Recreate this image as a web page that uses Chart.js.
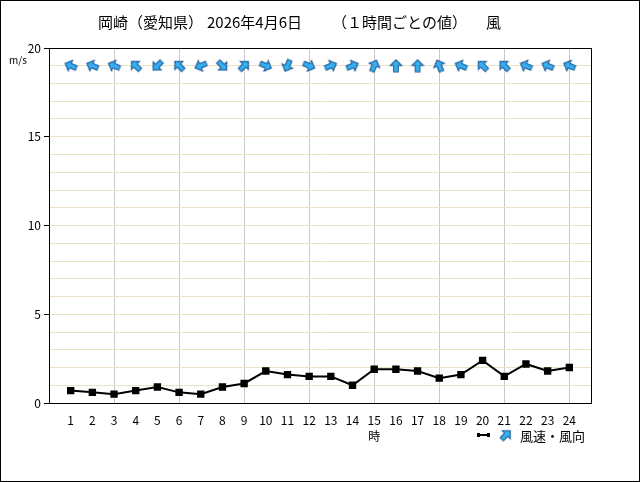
<!DOCTYPE html>
<html>
<head>
<meta charset="utf-8">
<script src="https://cdn.jsdelivr.net/npm/chart.js@4"></script>
<style>
  body { margin: 0; background: #fff; }
  #wrap { width: 640px; height: 482px; }
</style>
</head>
<body>
<div id="wrap"><canvas id="wind-chart" width="640" height="482"></canvas></div>
<script>
// hours of the day
const hours = [1, 2, 3, 4, 5, 6, 7, 8, 9, 10, 11, 12, 13, 14, 15, 16, 17, 18, 19, 20, 21, 22, 23, 24];
// wind speed (m/s)
const speeds = [0.7, 0.6, 0.5, 0.7, 0.9, 0.6, 0.5, 0.9, 1.1, 1.8, 1.6, 1.5, 1.5, 1.0, 1.9, 1.9, 1.8, 1.4, 1.6, 2.4, 1.5, 2.2, 1.8, 2.0];
// wind direction (where the wind blows from)
const directions = ["ESE", "ESE", "ESE", "SE", "NE", "SE", "ENE", "NW", "SW", "WNW", "NNE", "WNW",
  "WSW", "WSW", "SSW", "S", "S", "SSE", "ESE", "SE", "SE", "ESE", "ESE", "ESE"];
const yTicks = [0, 5, 10, 15, 20];

const compass = ["N", "NNE", "NE", "ENE", "E", "ESE", "SE", "SSE", "S", "SSW", "SW", "WSW", "W", "WNW", "NW", "NNW"];
const FONT = '"Noto Sans CJK JP", "DejaVu Sans", sans-serif';

// arrow pointing up, rotated per point
function makeArrow() {
  const c = document.createElement("canvas");
  c.width = 14; c.height = 14;
  const g = c.getContext("2d");
  g.beginPath();
  g.moveTo(7, 1);
  g.lineTo(12.8, 6.8);
  g.lineTo(9.3, 6.8);
  g.lineTo(9.3, 13);
  g.lineTo(4.7, 13);
  g.lineTo(4.7, 6.8);
  g.lineTo(1.2, 6.8);
  g.closePath();
  g.fillStyle = "#35b0f0";
  g.fill();
  g.lineWidth = 1.1;
  g.strokeStyle = "#1f5a98";
  g.stroke();
  return c;
}
const arrow = makeArrow();

// arrow points where the wind goes
const arrowAngles = directions.map(d => (compass.indexOf(d) * 22.5 + 180) % 360);

const extras = {
  id: "extras",
  afterDraw(chart) {
    const ctx = chart.ctx;
    const a = chart.chartArea;
    ctx.save();
    // plot frame
    ctx.strokeStyle = "#000";
    ctx.lineWidth = 1;
    ctx.strokeRect(Math.round(a.left) + 0.5, Math.round(a.top) + 0.5, Math.round(a.right - a.left), Math.round(a.bottom - a.top));
    // outer frame
    ctx.strokeRect(0.5, 0.5, 639, 481);

    ctx.fillStyle = "#000";
    ctx.textBaseline = "middle";
    ctx.font = "15px " + FONT;
    ctx.textAlign = "left";
    ctx.fillText("岡崎（愛知県）", 98, 22);
    ctx.fillText("2026年4月6日", 207, 22);
    ctx.fillText("（１時間ごとの値）", 332, 22);
    ctx.fillText("風", 486, 22);

    ctx.font = "10px " + FONT;
    ctx.fillText("m/s", 9, 60);

    ctx.font = "12px " + FONT;
    ctx.textAlign = "center";
    ctx.fillText("時", chart.scales.x.getPixelForValue(15), 436);

    // legend
    ctx.lineWidth = 2;
    ctx.beginPath();
    ctx.moveTo(478, 435);
    ctx.lineTo(489, 435);
    ctx.stroke();
    ctx.fillRect(477, 433, 3, 4);
    ctx.fillRect(487, 433, 3, 4);
    ctx.translate(506, 435);
    ctx.rotate(Math.PI / 4);
    ctx.drawImage(arrow, -7, -7);
    ctx.setTransform(1, 0, 0, 1, 0, 0);
    ctx.font = "13px " + FONT;
    ctx.textAlign = "left";
    ctx.fillText("風速・風向", 520, 436);
    ctx.restore();
  }
};

new Chart(document.getElementById("wind-chart"), {
  type: "line",
  data: {
    datasets: [
      {
        label: "風速",
        data: hours.map((h, i) => ({ x: h, y: speeds[i] })),
        borderColor: "#000",
        backgroundColor: "#000",
        borderWidth: 2,
        pointStyle: "rect",
        pointRadius: 3.8,
        tension: 0
      },
      {
        label: "風向",
        data: hours.map(h => ({ x: h, y: 19 })),
        showLine: false,
        pointStyle: arrow,
        pointRotation: arrowAngles,
        pointRadius: 7
      }
    ]
  },
  options: {
    responsive: false,
    animation: false,
    layout: { padding: { top: 48, right: 49, left: 0, bottom: 0 } },
    plugins: {
      legend: { display: false },
      title: { display: false },
      tooltip: { enabled: false }
    },
    scales: {
      x: {
        type: "linear",
        min: 0,
        max: 25,
        afterFit: s => { s.height = 79; },
        border: { color: "#000", width: 1 },
        grid: {
          drawTicks: false,
          color: c => (c.tick.value > 0 && c.tick.value < 25 && c.tick.value % 3 === 0) ? "#c8c8c8" : "rgba(0,0,0,0)"
        },
        ticks: {
          stepSize: 1,
          autoSkip: false,
          maxRotation: 0,
          padding: 10,
          color: "#000",
          font: { family: FONT, size: 12 },
          callback: v => (v >= 1 && v <= 24) ? v : ""
        }
      },
      y: {
        min: 0,
        max: 20,
        afterFit: s => { s.width = 49; },
        border: { color: "#000", width: 1 },
        grid: {
          tickLength: 5,
          color: "#ebe2c4",
          tickColor: c => yTicks.includes(c.tick.value) ? "#000" : "rgba(0,0,0,0)"
        },
        ticks: {
          stepSize: 1,
          autoSkip: false,
          padding: 3,
          color: "#000",
          font: { family: FONT, size: 12 },
          callback: v => yTicks.includes(v) ? v : ""
        }
      }
    }
  },
  plugins: [extras]
});
</script>
</body>
</html>
